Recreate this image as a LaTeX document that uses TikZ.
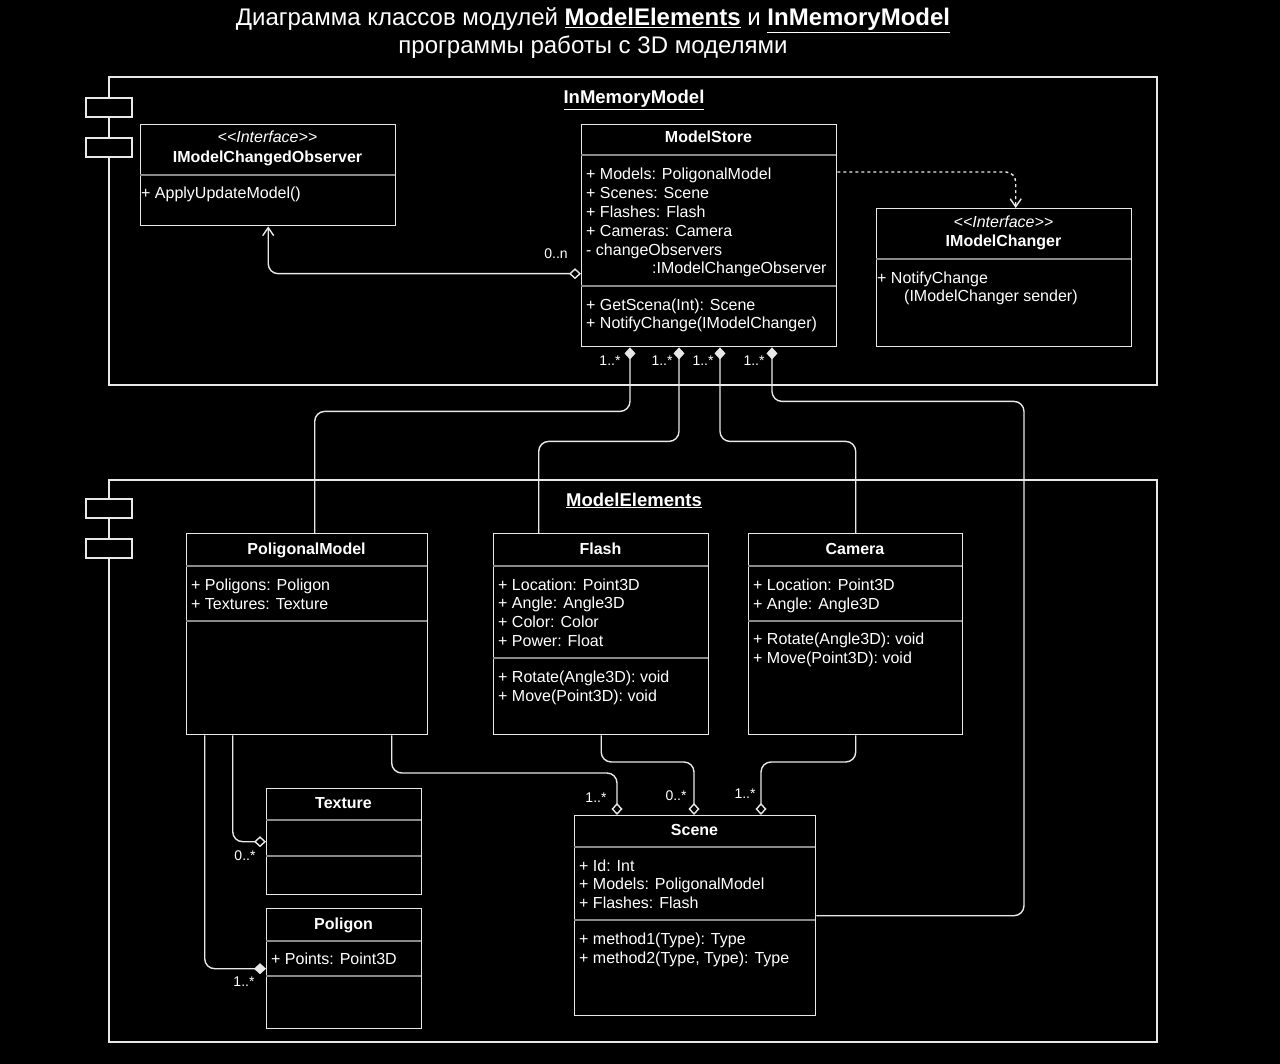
\documentclass[tikz,border=0pt]{standalone}
\usepackage{fontspec}
\setmainfont{Liberation Sans}
\usetikzlibrary{arrows.meta}

\definecolor{umlline}{HTML}{E8E8E8}
\definecolor{umlsep}{HTML}{8A8A8A}
\newcommand{\ifacetag}{<\kern0pt<Interface>\kern0pt>}

\begin{document}
\begin{tikzpicture}[x=1pt, y=-1pt,
    line/.style={draw=umlline, line width=1.4pt},
    cls/.style={line, anchor=north west, inner sep=0pt, fill=black},
    frame/.style={draw=umlline, line width=2.6pt},
    sep/.style={draw=umlsep, line width=1.2pt},
    txt/.style={text=white, inner sep=0pt, font=\fontsize{16}{18.8}\selectfont},
    body/.style={txt, anchor=base west, align=left},
    head/.style={txt, anchor=base, font=\fontsize{16}{18.8}\selectfont\bfseries},
    stereo/.style={txt, anchor=base, font=\fontsize{16}{18.8}\selectfont\itshape},
    mult/.style={text=white, inner sep=0pt, font=\fontsize{14}{16}\selectfont},
    odiam/.tip={Diamond[open, length=12pt, width=11pt]},
    fdiam/.tip={Diamond[fill=umlline, length=12pt, width=11pt]},
    barb/.tip={Straight Barb[length=8pt, width=11pt]},
    link/.style={line, rounded corners=10pt},
    agg/.style={link, odiam-},
    comp/.style={link, fdiam-}]

  \fill[black] (0,0) rectangle (1280,1064);
  \useasboundingbox (0,0) rectangle (1280,1064);

  % title (base = last line)
  \node[text=white, font=\fontsize{24}{28}\selectfont, align=center, anchor=base] (title) at (593,54)
    {Диаграмма классов модулей \underline{\textbf{ModelElements}} и \underline{\textbf{InMemoryModel}}\\программы работы с 3D моделями};

  % module frames
  \draw[frame] (109,77) rectangle (1157,385);
  \draw[frame, fill=black] (86,98) rectangle (132,117);
  \draw[frame, fill=black] (86,138) rectangle (132,157);
  \node[head, font=\fontsize{18.5}{20}\selectfont\bfseries] (inmem) at (634,104) {\underline{InMemoryModel}};

  \draw[frame] (109,480) rectangle (1157,1042);
  \draw[frame, fill=black] (86,499) rectangle (132,518);
  \draw[frame, fill=black] (86,539) rectangle (132,558);
  \node[head, font=\fontsize{18.5}{20}\selectfont\bfseries] (elems) at (634,506) {\underline{ModelElements}};

  % InMemoryModel classes
  \node[cls, minimum width=255pt, minimum height=101pt] (obs) at (140,124) {};
  \node[stereo] (obs-s) at (267.5,143) {\ifacetag};
  \node[head] (obs-t) at (267.5,163) {IModelChangedObserver};
  \draw[sep] (140,175) -- (395,175);
  \node[body] (obs-m) at (141,199) {+ ApplyUpdateModel()};

  \node[cls, minimum width=255pt, minimum height=222pt] (store) at (581,124) {};
  \node[head] (store-t) at (708.5,143) {ModelStore};
  \draw[sep] (581,155) -- (836,155);
  \node[body] (store-a) at (586,274) {+ Models: PoligonalModel\\+ Scenes: Scene\\+ Flashes: Flash\\+ Cameras: Camera\\- changeObservers\\\hspace*{66pt}:IModelChangeObserver};
  \draw[sep] (581,286) -- (836,286);
  \node[body] (store-m) at (586,329) {+ GetScena(Int): Scene\\+ NotifyChange(IModelChanger)};

  \node[cls, minimum width=255pt, minimum height=138pt] (changer) at (876,208) {};
  \node[stereo] (changer-s) at (1003.5,228) {\ifacetag};
  \node[head] (changer-t) at (1003.5,247) {IModelChanger};
  \draw[sep] (876,259) -- (1131,259);
  \node[body] (changer-m) at (877,302) {+ NotifyChange\\\hspace*{27pt}(IModelChanger sender)};

  % ModelElements classes
  \node[cls, minimum width=241pt, minimum height=201pt] (poly) at (186,533) {};
  \node[head] (poly-t) at (306.5,554) {PoligonalModel};
  \draw[sep] (186,566) -- (427,566);
  \node[body] (poly-a) at (191,609) {+ Poligons: Poligon\\+ Textures: Texture};
  \draw[sep] (186,621) -- (427,621);

  \node[cls, minimum width=215pt, minimum height=201pt] (flash) at (493,533) {};
  \node[head] (flash-t) at (600.5,554) {Flash};
  \draw[sep] (493,566) -- (708,566);
  \node[body] (flash-a) at (498,646.4) {+ Location: Point3D\\+ Angle: Angle3D\\+ Color: Color\\+ Power: Float};
  \draw[sep] (493,658) -- (708,658);
  \node[body] (flash-m) at (498,701) {+ Rotate(Angle3D): void\\+ Move(Point3D): void};

  \node[cls, minimum width=214pt, minimum height=201pt] (camera) at (748,533) {};
  \node[head] (camera-t) at (855,554) {Camera};
  \draw[sep] (748,566) -- (962,566);
  \node[body] (camera-a) at (753,609) {+ Location: Point3D\\+ Angle: Angle3D};
  \draw[sep] (748,621) -- (962,621);
  \node[body] (camera-m) at (753,663) {+ Rotate(Angle3D): void\\+ Move(Point3D): void};

  \node[cls, minimum width=155pt, minimum height=106pt] (texture) at (266,788) {};
  \node[head] (texture-t) at (343.5,808) {Texture};
  \draw[sep] (266,820) -- (421,820);
  \draw[sep] (266,856) -- (421,856);

  \node[cls, minimum width=155pt, minimum height=120pt] (poligon) at (266,908) {};
  \node[head] (poligon-t) at (343.5,929) {Poligon};
  \draw[sep] (266,941) -- (421,941);
  \node[body] (poligon-a) at (271,964) {+ Points: Point3D};
  \draw[sep] (266,976) -- (421,976);

  \node[cls, minimum width=241pt, minimum height=200pt] (scene) at (574,815) {};
  \node[head] (scene-t) at (694.5,835) {Scene};
  \draw[sep] (574,847) -- (815,847);
  \node[body] (scene-a) at (579,908.6) {+ Id: Int\\+ Models: PoligonalModel\\+ Flashes: Flash};
  \draw[sep] (574,920) -- (815,920);
  \node[body] (scene-m) at (579,963) {+ method1(Type): Type\\+ method2(Type, Type): Type};

  % connectors
  \draw[link, odiam-barb] ([yshift=-38pt]store.west) -| (obs.south);
  \node[mult] (m-obs) at (556,254) {0..n};
  \draw[link, dashed, -barb] ([yshift=-48pt]store.north east) -| ([xshift=11.5pt]changer.north);

  \draw[comp] ([xshift=49pt]store.south west) -- ++(0,64) -| ([xshift=7.5pt]poly.north);
  \draw[comp] ([xshift=98pt]store.south west) -- ++(0,94) -| ([xshift=-62.5pt]flash.north);
  \draw[comp] ([xshift=139pt]store.south west) -- ++(0,94) -| (camera.north);
  \draw[comp] ([xshift=191pt]store.south west) -- ++(0,54) -- ++(252,0) |- (scene.east);
  \node[mult] (m-poly) at (610,361) {1..*};
  \node[mult] (m-flash) at (662,361) {1..*};
  \node[mult] (m-camera) at (703,361) {1..*};
  \node[mult] (m-scene) at (754,361) {1..*};

  \draw[agg] ([xshift=43pt]scene.north west) -- ++(0,-42) -| ([xshift=84.5pt]poly.south);
  \draw[agg] ([xshift=120pt]scene.north west) -- ++(0,-53) -| (flash.south);
  \draw[agg] ([xshift=187pt]scene.north west) -- ++(0,-53) -| (camera.south);
  \node[mult] (m-spoly) at (596,798) {1..*};
  \node[mult] (m-sflash) at (676,796) {0..*};
  \node[mult] (m-scamera) at (745,794) {1..*};

  \draw[agg] (texture.west) -| ([xshift=-74.5pt]poly.south);
  \draw[comp] (poligon.west) -| ([xshift=-102.5pt]poly.south);
  \node[mult] (m-texture) at (245,856) {0..*};
  \node[mult] (m-poligon) at (244,982) {1..*};
\end{tikzpicture}
\end{document}
